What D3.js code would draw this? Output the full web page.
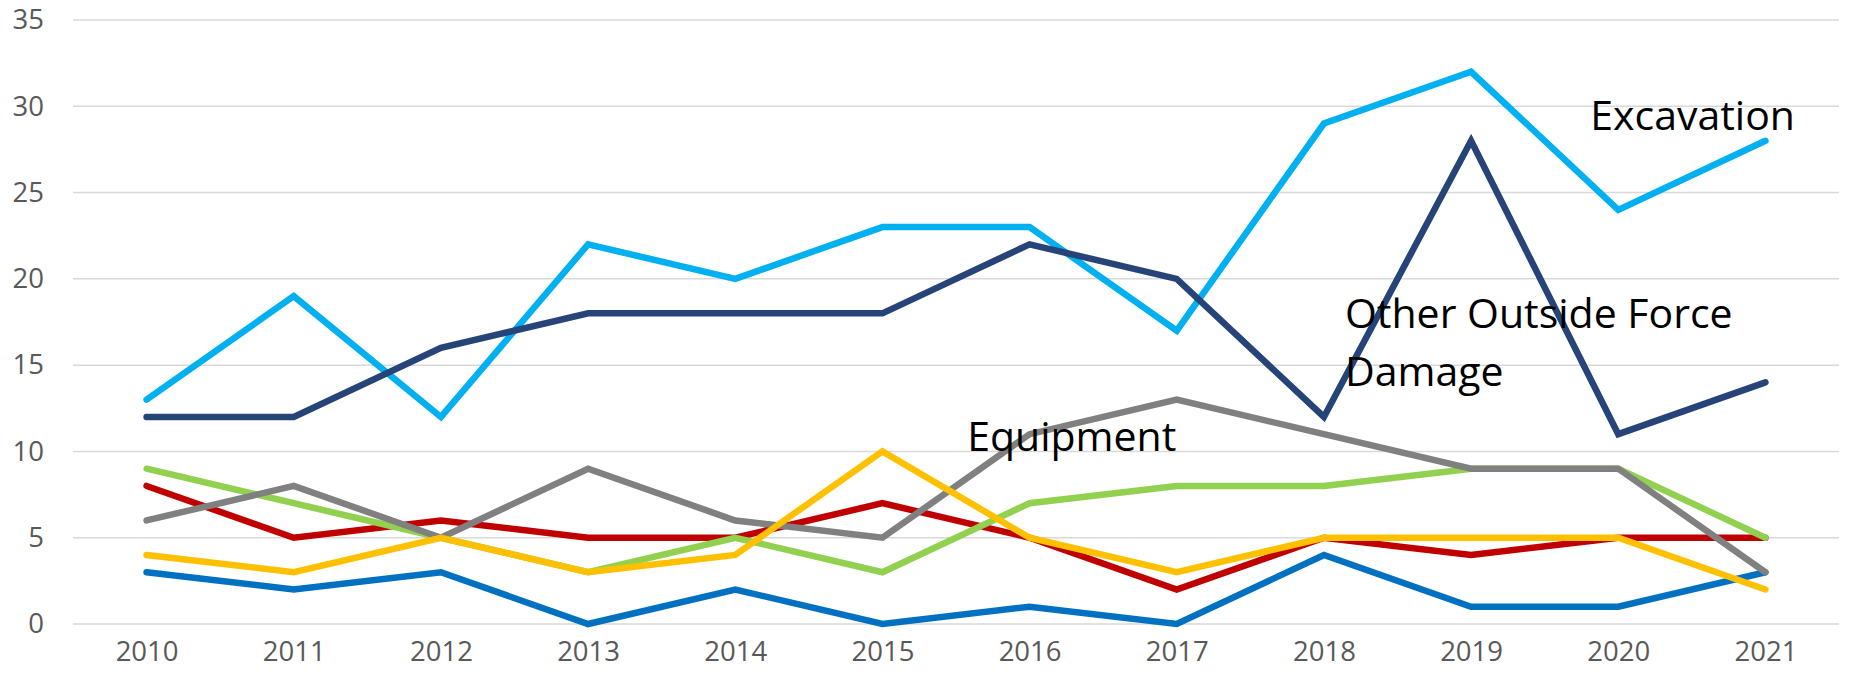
<!DOCTYPE html>
<html>
<head>
<meta charset="utf-8">
<script src="https://cdn.jsdelivr.net/npm/d3@7"></script>
<style>
  body { margin: 0; background: #fff; }
  text { font-family: "Open Sans", "DejaVu Sans", sans-serif; }
</style>
</head>
<body>
<div id="chart"></div>
<script>
// categories
var years = ["2010","2011","2012","2013","2014","2015","2016","2017","2018","2019","2020","2021"];
var yTicks = [0, 5, 10, 15, 20, 25, 30, 35];

// series values
var excavation   = [13, 19, 12, 22, 20, 23, 23, 17, 29, 32, 24, 28];
var otherOutside = [12, 12, 16, 18, 18, 18, 22, 20, 12, 28, 11, 14];
var blueSeries   = [3, 2, 3, 0, 2, 0, 1, 0, 4, 1, 1, 3];
var redSeries    = [8, 5, 6, 5, 5, 7, 5, 2, 5, 4, 5, 5];
var greenSeries  = [9, 7, 5, 3, 5, 3, 7, 8, 8, 9, 9, 5];
var equipment    = [6, 8, 5, 9, 6, 5, 11, 13, 11, 9, 9, 3];
var yellowSeries = [4, 3, 5, 3, 4, 10, 5, 3, 5, 5, 5, 2];

var width = 1852, height = 678;
var margin = { top: 20, bottom: 54, left: 73, right: 13 };

var svg = d3.select("#chart").append("svg")
  .attr("width", width).attr("height", height);

var x = d3.scalePoint().domain(years)
  .range([margin.left, width - margin.right]).padding(0.5);
var y = d3.scaleLinear().domain([0, 35])
  .range([height - margin.bottom, margin.top]);

// fractional category position, for the in-chart labels
function xAt(i) { return x(years[0]) + i * x.step(); }

// gridlines
svg.append("g")
  .selectAll("line").data(yTicks).enter().append("line")
  .attr("x1", margin.left).attr("x2", width - margin.right)
  .attr("y1", function(d){ return y(d); }).attr("y2", function(d){ return y(d); })
  .attr("stroke", "#d9d9d9").attr("stroke-width", 1.5);

// y axis labels
var axisY = d3.axisLeft(y).tickValues(yTicks).tickSize(0).tickPadding(0);
svg.append("g")
  .attr("transform", "translate(44,0)")
  .call(axisY)
  .call(function(g){ g.select(".domain").remove(); })
  .selectAll("text")
  .attr("font-size", "27.5px").attr("fill", "#595959")
  .attr("font-family", "Open Sans, sans-serif");

// x axis labels
var axisX = d3.axisBottom(x).tickSize(0).tickPadding(0);
svg.append("g")
  .attr("transform", "translate(0," + (height - margin.bottom + 17) + ")")
  .call(axisX)
  .call(function(g){ g.select(".domain").remove(); })
  .selectAll("text")
  .attr("font-size", "27.5px").attr("fill", "#595959")
  .attr("font-family", "Open Sans, sans-serif");

var series = [
  { values: excavation,   color: "#00b0f0" },
  { values: otherOutside, color: "#264478" },
  { values: blueSeries,   color: "#0070c0" },
  { values: redSeries,    color: "#c00000" },
  { values: greenSeries,  color: "#92d050" },
  { values: equipment,    color: "#808080" },
  { values: yellowSeries, color: "#ffc000" }
];

var line = d3.line()
  .x(function(d, i){ return x(years[i]); })
  .y(function(d){ return y(d); });

svg.append("g").selectAll("path").data(series).enter().append("path")
  .attr("fill", "none")
  .attr("stroke", function(d){ return d.color; })
  .attr("stroke-width", 6.5)
  .attr("stroke-linecap", "round")
  .attr("stroke-linejoin", "miter")
  .attr("d", function(d){ return line(d.values); });

// labels on the chart
var labels = [
  { text: ["Excavation"], at: 9.81, value: 28.64 },
  { text: ["Other Outside Force", "Damage"], at: 8.143, value: 17.15 },
  { text: ["Equipment"], at: 5.576, value: 10.0 }
];
labels.forEach(function(l){
  var t = svg.append("text")
    .attr("x", xAt(l.at)).attr("y", y(l.value))
    .attr("font-size", "41px").attr("fill", "#000");
  l.text.forEach(function(s, k){
    t.append("tspan").attr("x", xAt(l.at)).attr("dy", k === 0 ? 0 : 58).text(s);
  });
});
</script>
</body>
</html>
